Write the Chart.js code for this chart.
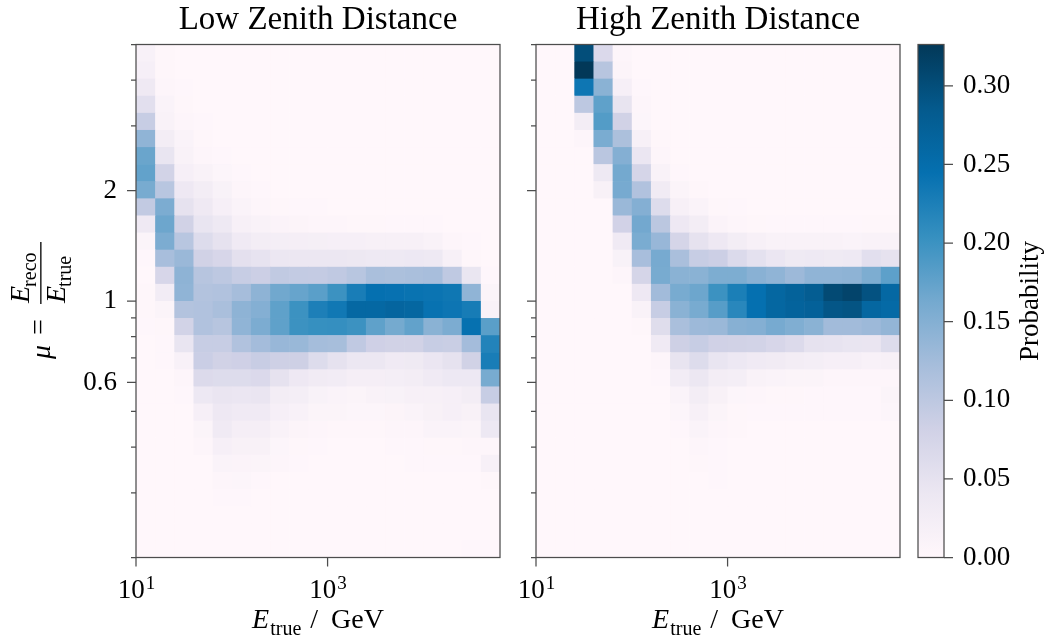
<!DOCTYPE html>
<html><head><meta charset="utf-8">
<script src="https://cdn.jsdelivr.net/npm/chart.js@4.4.1/dist/chart.umd.min.js"></script>
<style>
html,body{margin:0;padding:0;background:#fff;}
#wrap{position:relative;width:1048px;height:643px;overflow:hidden;background:#fff;}
canvas{position:absolute;left:0;top:0;}
</style></head><body>
<div id="wrap">
<canvas id="cLow" width="1048" height="643"></canvas>
<canvas id="cHigh" width="1048" height="643"></canvas>
<canvas id="cBar" width="1048" height="643"></canvas>
</div>
<script>
// ---------- data ----------
// true-energy bin edges in GeV (0.2 decade bins)
const energyEdges = [10, 15.849, 25.119, 39.811, 63.096, 100, 158.49, 251.19, 398.11, 630.96,
  1000, 1584.9, 2511.9, 3981.1, 6309.6, 10000, 15849, 25119, 39811, 63096];
// migration (mu) bin edges, bottom to top
const muEdges = [0.2, 0.22266, 0.24789, 0.27597, 0.30724, 0.34205, 0.3808, 0.42394, 0.47197, 0.52544,
  0.58497, 0.65124, 0.72503, 0.80717, 0.89862, 1.0, 1.1133, 1.2394, 1.3798, 1.5361,
  1.7101, 1.9039, 2.1196, 2.3597, 2.6271, 2.9247, 3.256, 3.6249, 4.0356, 4.4928, 5.0];
const muTicks = [0.2, 0.3, 0.4, 0.5, 0.6, 0.7, 0.8, 0.9, 1, 2, 3, 4, 5];
const muTickLabels = { '0.6': '0.6', '1': '1', '2': '2' };
const energyTicks = [10, 1000];
const energyTickBase = ['10', '10'];
const energyTickExp = ['1', '3'];
const colorbarTicks = [0, 0.05, 0.10, 0.15, 0.20, 0.25, 0.30];
const probMax = 0.3263;
const panelTitles = ['Low Zenith Distance', 'High Zenith Distance'];

// probability per cell, rows from top (mu 4.49-5) to bottom (mu 0.2-0.22), 19 energy columns
const lowZenith = [
 [0.015,0.003,0,0,0,0,0,0,0,0,0,0,0,0,0,0,0,0,0],
 [0.02,0.003,0.001,0,0,0,0,0,0,0,0,0,0,0,0,0,0,0,0],
 [0.035,0.005,0.002,0,0,0,0,0,0,0,0,0,0,0,0,0,0,0,0],
 [0.055,0.01,0.003,0.001,0,0,0,0,0,0,0,0,0,0,0,0,0,0,0],
 [0.09,0.013,0.005,0.002,0.001,0,0,0,0,0,0,0,0,0,0,0,0,0,0],
 [0.14,0.025,0.01,0.003,0.001,0,0,0,0,0,0,0,0,0,0,0,0,0,0],
 [0.17,0.045,0.013,0.004,0.002,0.001,0,0,0,0,0,0,0,0,0,0,0,0,0],
 [0.175,0.078,0.02,0.012,0.006,0.002,0.001,0,0,0,0,0,0,0,0,0,0,0,0],
 [0.16,0.105,0.037,0.026,0.014,0.005,0.002,0.001,0.001,0.001,0,0,0,0,0,0,0,0,0],
 [0.095,0.157,0.05,0.035,0.02,0.01,0.005,0.003,0.002,0.002,0.001,0.001,0.001,0.001,0.001,0.001,0.001,0,0],
 [0.035,0.168,0.08,0.045,0.036,0.017,0.012,0.009,0.007,0.005,0.004,0.003,0.003,0.002,0.002,0.002,0.001,0.001,0],
 [0.008,0.157,0.105,0.062,0.05,0.032,0.026,0.024,0.022,0.021,0.02,0.02,0.018,0.018,0.017,0.012,0.005,0.002,0.001],
 [0.002,0.12,0.132,0.08,0.072,0.053,0.048,0.04,0.04,0.04,0.04,0.039,0.036,0.036,0.038,0.036,0.018,0.003,0.001],
 [0.001,0.072,0.142,0.106,0.1,0.09,0.085,0.096,0.094,0.093,0.097,0.105,0.118,0.117,0.118,0.12,0.098,0.043,0.002],
 [0.003,0.028,0.14,0.11,0.112,0.122,0.142,0.165,0.172,0.18,0.2,0.228,0.245,0.243,0.241,0.24,0.236,0.14,0.008],
 [0.003,0.008,0.11,0.112,0.118,0.142,0.15,0.177,0.2,0.225,0.235,0.26,0.26,0.265,0.262,0.242,0.238,0.23,0.012],
 [0.002,0.003,0.078,0.112,0.106,0.14,0.157,0.177,0.2,0.204,0.205,0.2,0.177,0.162,0.175,0.145,0.157,0.244,0.18],
 [0.001,0.002,0.045,0.09,0.09,0.112,0.124,0.134,0.133,0.123,0.121,0.097,0.083,0.08,0.08,0.09,0.088,0.124,0.22],
 [0.001,0.002,0.015,0.087,0.08,0.083,0.089,0.084,0.084,0.062,0.05,0.04,0.04,0.032,0.034,0.042,0.05,0.08,0.228],
 [0,0.001,0.005,0.064,0.062,0.062,0.066,0.05,0.037,0.03,0.028,0.022,0.022,0.024,0.026,0.032,0.038,0.038,0.16],
 [0,0,0.002,0.038,0.044,0.042,0.044,0.026,0.024,0.014,0.01,0.008,0.012,0.014,0.018,0.018,0.02,0.026,0.09],
 [0,0,0.001,0.02,0.037,0.032,0.032,0.02,0.015,0.008,0.008,0.006,0.006,0.007,0.01,0.016,0.02,0.016,0.045],
 [0,0,0,0.008,0.032,0.022,0.022,0.012,0.007,0.004,0.003,0.003,0.003,0.004,0.005,0.01,0.011,0.008,0.038],
 [0,0,0,0.004,0.02,0.016,0.016,0.006,0.003,0.002,0.001,0.001,0.001,0.002,0.002,0.003,0.003,0.004,0.004],
 [0,0,0,0.001,0.01,0.009,0.008,0.004,0.002,0.001,0.001,0.001,0.001,0.001,0.002,0.002,0.002,0.002,0.018],
 [0,0,0,0,0.005,0.006,0.002,0.001,0.001,0,0,0,0,0,0.001,0.001,0.001,0.001,0.003],
 [0,0,0,0,0.002,0.002,0.001,0,0,0,0,0,0,0,0,0,0,0,0.001],
 [0,0,0,0,0,0.001,0,0,0,0,0,0,0,0,0,0,0,0,0.001],
 [0,0,0,0,0,0,0,0,0,0,0,0,0,0,0,0,0,0.001,0.001],
 [0,0,0,0,0,0,0,0,0,0,0,0,0,0,0,0,0,0.002,0.002]
];
const highZenith = [
 [0,0,0.3,0.066,0.004,0,0,0,0,0,0,0,0,0,0,0,0,0,0],
 [0,0,0.326,0.106,0.007,0.001,0,0,0,0,0,0,0,0,0,0,0,0,0],
 [0,0,0.237,0.145,0.02,0.002,0,0,0,0,0,0,0,0,0,0,0,0,0],
 [0,0,0.1,0.177,0.046,0.004,0,0,0,0,0,0,0,0,0,0,0,0,0],
 [0,0,0.026,0.185,0.08,0.006,0.001,0,0,0,0,0,0,0,0,0,0,0,0],
 [0,0,0.004,0.158,0.117,0.018,0.003,0,0,0,0,0,0,0,0,0,0,0,0],
 [0,0,0.001,0.103,0.15,0.042,0.004,0.001,0,0,0,0,0,0,0,0,0,0,0],
 [0,0,0,0.036,0.163,0.075,0.012,0.002,0.001,0,0,0,0,0,0,0,0,0,0],
 [0,0,0,0.016,0.161,0.112,0.03,0.008,0.003,0.001,0,0,0,0,0,0,0,0,0],
 [0,0,0,0.001,0.132,0.15,0.062,0.018,0.01,0.003,0.002,0.001,0.001,0.001,0.001,0.001,0.001,0.001,0.001],
 [0,0,0,0,0.079,0.164,0.102,0.037,0.025,0.009,0.004,0.003,0.002,0.002,0.002,0.002,0.002,0.003,0.003],
 [0,0,0,0,0.032,0.158,0.134,0.074,0.05,0.037,0.026,0.017,0.013,0.012,0.012,0.012,0.01,0.013,0.013],
 [0,0,0,0,0.014,0.12,0.161,0.118,0.09,0.085,0.065,0.052,0.042,0.034,0.036,0.034,0.036,0.055,0.05],
 [0,0,0,0,0.004,0.075,0.16,0.145,0.145,0.156,0.156,0.146,0.14,0.13,0.14,0.14,0.142,0.156,0.178],
 [0,0,0,0,0.001,0.037,0.126,0.16,0.168,0.2,0.226,0.245,0.262,0.27,0.28,0.305,0.312,0.295,0.26],
 [0,0,0,0,0.001,0.013,0.09,0.145,0.16,0.182,0.215,0.245,0.262,0.268,0.272,0.29,0.293,0.262,0.256],
 [0,0,0,0,0,0.003,0.06,0.118,0.13,0.132,0.148,0.15,0.161,0.153,0.145,0.126,0.126,0.13,0.138],
 [0,0,0,0,0,0.001,0.032,0.084,0.09,0.081,0.08,0.078,0.072,0.064,0.05,0.048,0.045,0.044,0.062],
 [0,0,0,0,0,0,0.005,0.046,0.062,0.045,0.038,0.032,0.03,0.026,0.024,0.02,0.02,0.015,0.017],
 [0,0,0,0,0,0,0.002,0.028,0.04,0.025,0.023,0.012,0.01,0.008,0.008,0.004,0.004,0.005,0.005],
 [0,0,0,0,0,0,0,0.01,0.026,0.016,0.006,0.004,0.003,0.003,0.002,0.002,0.002,0.002,0.008],
 [0,0,0,0,0,0,0,0.006,0.018,0.008,0.003,0.002,0.002,0.002,0.002,0.002,0.002,0.002,0.006],
 [0,0,0,0,0,0,0,0.002,0.01,0.004,0.003,0.001,0.001,0.001,0.001,0.001,0.001,0.001,0.001],
 [0,0,0,0,0,0,0,0.001,0.004,0.002,0.001,0.001,0.001,0.001,0.001,0.001,0.001,0.001,0.001],
 [0,0,0,0,0,0,0,0,0.003,0.002,0.001,0,0,0,0,0,0,0,0],
 [0,0,0,0,0,0,0,0,0.001,0.002,0,0,0,0,0,0,0,0,0],
 [0,0,0,0,0,0,0,0,0,0,0,0,0,0,0,0,0,0,0],
 [0,0,0,0,0,0,0,0,0,0,0,0,0,0,0,0,0,0,0],
 [0,0,0,0,0,0,0,0,0,0,0,0,0,0,0,0,0,0,0],
 [0,0,0,0,0,0,0,0,0,0,0,0,0,0,0,0,0,0,0]
];

// ---------- styling ----------
const FONT = "'Liberation Serif', 'Times New Roman', serif";
const AXIS = '#4d4d4d';
const PUBU = [[255,247,251],[236,231,242],[208,209,230],[166,189,219],[116,169,207],
              [54,144,192],[5,112,176],[4,90,141],[2,56,88]];
function pubu(t) {
  t = Math.max(0, Math.min(1, t));
  const s = t * 8, i = Math.min(7, Math.floor(s)), f = s - i;
  const a = PUBU[i], b = PUBU[i + 1];
  return 'rgb(' + [0,1,2].map(k => Math.round(a[k] + (b[k] - a[k]) * f)).join(',') + ')';
}
function cellCenters(matrix) {
  const pts = [];
  const n = matrix.length;
  matrix.forEach((row, r) => row.forEach((v, c) => {
    pts.push({ x: Math.sqrt(energyEdges[c] * energyEdges[c + 1]),
               y: Math.sqrt(muEdges[n - 1 - r] * muEdges[n - r]), v });
  }));
  return pts;
}

function heatPlugin(matrix, title, isLeft) {
  return {
    id: 'heat',
    beforeDatasetsDraw(chart) {
      const { ctx, chartArea: a, scales: { x, y } } = chart;
      const n = matrix.length;
      ctx.save();
      ctx.beginPath(); ctx.rect(a.left, a.top, a.right - a.left, a.bottom - a.top); ctx.clip();
      for (let r = 0; r < n; r++) {
        const yTop = y.getPixelForValue(muEdges[n - r]);
        const yBot = y.getPixelForValue(muEdges[n - 1 - r]);
        for (let c = 0; c < matrix[r].length; c++) {
          const x0 = x.getPixelForValue(energyEdges[c]);
          const x1 = x.getPixelForValue(energyEdges[c + 1]);
          ctx.fillStyle = pubu(matrix[r][c] / probMax);
          ctx.fillRect(x0, yTop, x1 - x0 + 0.6, yBot - yTop + 0.6);
        }
      }
      ctx.restore();
    },
    afterDraw(chart) {
      const { ctx, chartArea: a, scales: { x, y } } = chart;
      ctx.save();
      ctx.strokeStyle = AXIS; ctx.lineWidth = 1.25;
      ctx.strokeRect(a.left, a.top, a.right - a.left, a.bottom - a.top);
      ctx.beginPath();
      muTicks.forEach(v => {
        const py = y.getPixelForValue(v);
        const len = muTickLabels[String(v)] ? 9 : 5;
        ctx.moveTo(a.left - len, py); ctx.lineTo(a.left, py);
      });
      energyTicks.forEach(v => {
        const px = x.getPixelForValue(v);
        ctx.moveTo(px, a.bottom); ctx.lineTo(px, a.bottom + 9);
      });
      ctx.stroke();
      // x tick labels 10^n
      ctx.fillStyle = '#000';
      ctx.textBaseline = 'alphabetic';
      energyTicks.forEach((v, i) => {
        const px = x.getPixelForValue(v);
        ctx.font = '27px ' + FONT;
        const w1 = ctx.measureText(energyTickBase[i]).width;
        ctx.font = '19px ' + FONT;
        const w2 = ctx.measureText(energyTickExp[i]).width;
        const x0 = px - (w1 + w2) / 2;
        ctx.font = '27px ' + FONT; ctx.textAlign = 'left';
        ctx.fillText(energyTickBase[i], x0, 598);
        ctx.font = '19px ' + FONT;
        ctx.fillText(energyTickExp[i], x0 + w1 + 1, 589);
      });
      // x axis label: E_true / GeV
      const cx = (a.left + a.right) / 2;
      ctx.textAlign = 'left';
      ctx.font = 'italic 28px ' + FONT; const wE = ctx.measureText('E').width;
      ctx.font = '20px ' + FONT; const wT = ctx.measureText('true').width;
      ctx.font = '28px ' + FONT; const wS = ctx.measureText('/').width, wG = ctx.measureText('GeV').width;
      const gap1 = 9, gap2 = 13;
      let xs = cx - (wE + 1 + wT + gap1 + wS + gap2 + wG) / 2;
      ctx.font = 'italic 28px ' + FONT; ctx.fillText('E', xs, 628); xs += wE + 1;
      ctx.font = '20px ' + FONT; ctx.fillText('true', xs, 635); xs += wT + gap1;
      ctx.font = '28px ' + FONT; ctx.fillText('/', xs, 628); xs += wS + gap2;
      ctx.fillText('GeV', xs, 628);
      // title
      ctx.font = '33px ' + FONT; ctx.textAlign = 'center';
      ctx.fillText(title, cx, 29);
      // y axis label (left panel only)
      if (isLeft) {
        ctx.translate(50, 304);
        ctx.rotate(-Math.PI / 2);
        ctx.textAlign = 'left';
        ctx.font = 'italic 28px ' + FONT; ctx.fillText('\u03BC', -55, 0);
        ctx.font = '28px ' + FONT; ctx.fillText('=', -31, -3);
        // fraction
        ctx.font = 'italic 28px ' + FONT; const wEn = ctx.measureText('E').width;
        ctx.fillText('E', 1, -21);
        ctx.fillText('E', 1, 15);
        ctx.font = '20px ' + FONT;
        ctx.fillText('reco', wEn, -14);
        ctx.fillText('true', wEn, 21);
        ctx.fillStyle = '#000';
        ctx.fillRect(0, -9.8, 62, 1.3);
      }
      ctx.restore();
    }
  };
}

function makePanel(id, matrix, title, isLeft, left, right, yw) {
  const top = 44.5, bottom = 557.5;
  return new Chart(document.getElementById(id), {
    type: 'scatter',
    data: { datasets: [{ data: cellCenters(matrix), pointRadius: 0, pointHoverRadius: 0, showLine: false }] },
    options: {
      responsive: false, animation: false, devicePixelRatio: 1,
      events: [],
      layout: { padding: { left: left - yw, top: top, right: 1048 - right, bottom: 0 } },
      plugins: { legend: { display: false }, tooltip: { enabled: false }, title: { display: false } },
      scales: {
        x: {
          type: 'logarithmic', min: energyEdges[0], max: energyEdges[energyEdges.length - 1],
          afterFit: s => { s.height = 643 - bottom; },
          afterBuildTicks: s => { s.ticks = energyTicks.map(v => ({ value: v })); },
          ticks: { display: false },
          grid: { display: false, drawTicks: false }, border: { display: false }
        },
        y: {
          type: 'logarithmic', min: muEdges[0], max: muEdges[muEdges.length - 1],
          afterFit: s => { s.width = yw; },
          afterBuildTicks: s => { s.ticks = muTicks.map(v => ({ value: v })); },
          ticks: {
            display: isLeft, autoSkip: false, padding: 19, color: '#000',
            font: { family: FONT, size: 27 },
            callback: v => muTickLabels[String(v)] || ''
          },
          grid: { display: false, drawTicks: false }, border: { display: false }
        }
      }
    },
    plugins: [heatPlugin(matrix, title, isLeft)]
  });
}

makePanel('cLow', lowZenith, panelTitles[0], true, 136, 500, 136);
makePanel('cHigh', highZenith, panelTitles[1], false, 536, 900, 20);

// colorbar
const cbLeft = 918, cbRight = 944;
new Chart(document.getElementById('cBar'), {
  type: 'scatter',
  data: { datasets: [{ data: colorbarTicks.map(v => ({ x: 0, y: v })), pointRadius: 0, showLine: false }] },
  options: {
    responsive: false, animation: false, devicePixelRatio: 1, events: [],
    layout: { padding: { left: cbLeft, top: 44.5, right: 0, bottom: 85.5 } },
    plugins: { legend: { display: false }, tooltip: { enabled: false } },
    scales: {
      x: { display: false, min: 0, max: 1 },
      y: {
        position: 'right', min: 0, max: probMax,
        afterFit: s => { s.width = 1048 - cbRight; },
        afterBuildTicks: s => { s.ticks = colorbarTicks.map(v => ({ value: v })); },
        ticks: { padding: 19, color: '#000', font: { family: FONT, size: 27 }, callback: v => v.toFixed(2) },
        grid: { display: false, drawTicks: false }, border: { display: false }
      }
    }
  },
  plugins: [{
    id: 'cbar',
    beforeDatasetsDraw(chart) {
      const { ctx, chartArea: a, scales: { y } } = chart;
      const y0 = y.getPixelForValue(0), y1 = y.getPixelForValue(probMax);
      const g = ctx.createLinearGradient(0, y0, 0, y1);
      PUBU.forEach((c, i) => g.addColorStop(i / 8, 'rgb(' + c.join(',') + ')'));
      ctx.save();
      ctx.fillStyle = g;
      ctx.fillRect(a.left, a.top, a.right - a.left, a.bottom - a.top);
      ctx.restore();
    },
    afterDraw(chart) {
      const { ctx, chartArea: a, scales: { y } } = chart;
      ctx.save();
      ctx.strokeStyle = AXIS; ctx.lineWidth = 1.25;
      ctx.strokeRect(a.left, a.top, a.right - a.left, a.bottom - a.top);
      ctx.beginPath();
      colorbarTicks.forEach(v => {
        const py = y.getPixelForValue(v);
        ctx.moveTo(a.right, py); ctx.lineTo(a.right + 9, py);
      });
      ctx.stroke();
      ctx.translate(1038, (a.top + a.bottom) / 2);
      ctx.rotate(-Math.PI / 2);
      ctx.fillStyle = '#000';
      ctx.font = '27px ' + FONT; ctx.textAlign = 'center'; ctx.textBaseline = 'alphabetic';
      ctx.fillText('Probability', 0, 0);
      ctx.restore();
    }
  }]
});
</script>
</body></html>
